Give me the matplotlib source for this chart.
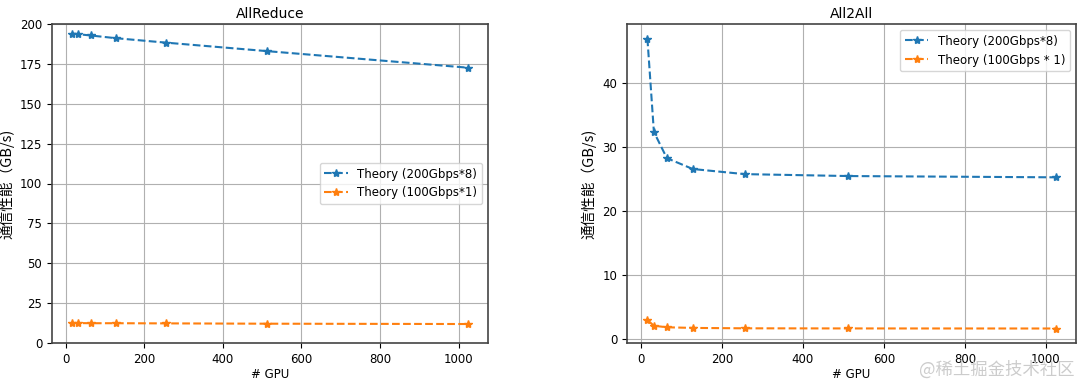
import matplotlib.pyplot as plt

plt.rcParams['font.family'] = ['DejaVu Sans', 'Noto Sans CJK SC']

# 数据
gpus = [16, 32, 64, 128, 256, 512, 1024]
allreduce_200x8 = [194.0, 193.6, 192.8, 191.1, 188.3, 183.0, 172.6]
allreduce_100x1 = [12.5, 12.5, 12.4, 12.4, 12.3, 12.1, 11.9]
all2all_200x8 = [46.9, 32.3, 28.2, 26.5, 25.7, 25.4, 25.2]
all2all_100x1 = [2.9, 2.0, 1.76, 1.66, 1.6, 1.58, 1.57]

fig = plt.figure(figsize=(10.8, 3.83), dpi=100)
ax1 = fig.add_axes([52/1080, 40/383, 436/1080, 319/383])
ax2 = fig.add_axes([627/1080, 40/383, 449/1080, 319/383])

fs = 8.5

ax1.plot(gpus, allreduce_200x8, '--*', label='Theory (200Gbps*8)')
ax1.plot(gpus, allreduce_100x1, '--*', label='Theory (100Gbps*1)')
ax1.set_ylim(0, 200)
ax1.set_title('AllReduce', fontsize=10, pad=4)
ax1.legend(loc='center right', fontsize=fs)

ax2.plot(gpus, all2all_200x8, '--*', label='Theory (200Gbps*8)')
ax2.plot(gpus, all2all_100x1, '--*', label='Theory (100Gbps * 1)')
ax2.set_title('All2All', fontsize=10, pad=4)
ax2.legend(loc='upper right', fontsize=fs)

for ax in (ax1, ax2):
    ax.grid(True)
    ax.set_xlabel('# GPU', fontsize=fs, labelpad=2)
    ax.set_ylabel('通信性能（GB/s)', fontsize=10.5,
                  family=['Noto Sans CJK SC', 'DejaVu Sans'])
    ax.tick_params(labelsize=fs)
    for s in ax.spines.values():
        s.set_color('#444444')
        s.set_linewidth(1.2)

# 水印
fig.text(0.995, 0.012, '@稀土掘金技术社区', ha='right', va='bottom',
         fontsize=12.5, color='#cccccc', family=['Noto Sans CJK SC'])

fig.savefig('out.png', dpi=100)
